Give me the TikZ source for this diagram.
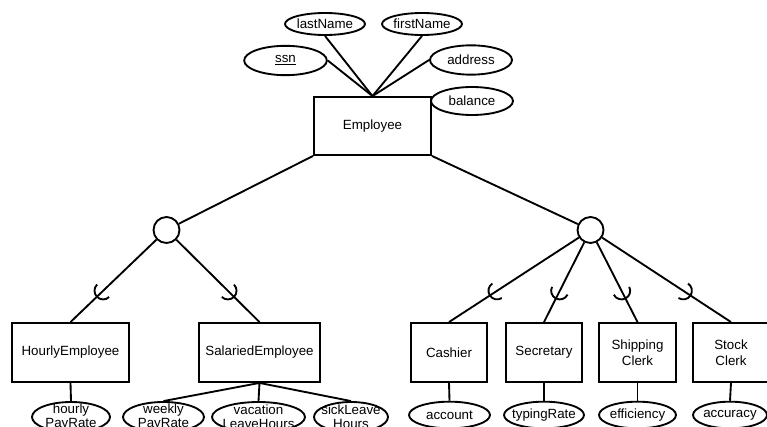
\documentclass[tikz,border=0pt]{standalone}
\usepackage{fontspec}
\setmainfont{Liberation Sans}
\usetikzlibrary{shapes.geometric,calc}

\tikzset{
  entity/.style={draw, rectangle, minimum height=44.25pt, align=center},
  isa/.style={draw, circle, inner sep=0pt, minimum size=19.5pt},
  attrtext/.style={align=center, inner sep=0pt, font=\fontsize{10pt}{10.5pt}\selectfont},
  attr/.style={draw, ellipse, inner sep=0pt, label={[attrtext]center:{#1}}}
}

\begin{document}
\begin{tikzpicture}[x=0.75pt, y=0.75pt, line width=1.4pt, font=\fontsize{10pt}{12pt}\selectfont]
\useasboundingbox (0,0) rectangle (767,-427);
\clip (0,0) rectangle (767,-427);

\node [entity, minimum width=87.75pt, minimum height=43.5pt] (emp) at (372.5,-126) {Employee};
\node [attr=lastName, minimum width=60pt, minimum height=16.5pt] (ln) at (325,-24) {};
\node [attr=firstName, minimum width=60pt, minimum height=16.5pt] (fn) at (422,-24) {};
\node [attr={\underline{ssn}}, minimum width=62pt, minimum height=22pt] (ssn) at (285.5,-60.5) {};
\node [attr=address, minimum width=61.5pt, minimum height=22pt] (addr) at (471,-60) {};
\node [attr=balance, minimum width=61.5pt, minimum height=21pt] (bal) at (472,-101) {};
\draw (ln.south) -- (emp.north);
\draw (fn.south) -- (emp.north);
\draw (ssn.east) -- (emp.north);
\draw (addr.west) -- (emp.north);

\node [isa] (d1) at (166.5,-230) {};
\node [isa] (d2) at (590.5,-230) {};
\draw (emp.south west) -- (d1);
\draw (emp.south east) -- (d2);

\node [entity, minimum width=87.75pt] (hourly) at (70.5,-352.5) {HourlyEmployee};
\node [entity, minimum width=90.75pt] (salaried) at (259.5,-352.5) {SalariedEmployee};
\node [entity, minimum width=57pt] (cashier) at (449,-352.5) {Cashier};
\node [entity, minimum width=57pt] (secretary) at (544,-352.5) {Secretary};
\node [entity, minimum width=57.75pt] (shipping) at (637.5,-352.5) {Shipping\\Clerk};
\node [entity, minimum width=57pt] (stock) at (731,-352.5) {Stock\\Clerk};

\foreach \a/\b in {d1/hourly, d1/salaried, d2/cashier, d2/secretary, d2/shipping, d2/stock} {
  \draw (\a) -- (\b.north);
  \draw let \p1 = ($(\b.north)-(\a)$), \n1 = {atan2(\y1,\x1)} in
    ($(\a)!0.66!(\b.north)$) ++(\n1+90:6.5pt) arc [start angle=\n1+90, delta angle=-180, radius=6.5pt];
}

\node [attr={hourly\\PayRate}, minimum width=58.5pt, minimum height=22.5pt] (hpr) at (71,-417) {};
\node [attr={weekly\\PayRate}, minimum width=60.75pt, minimum height=22.5pt] (wpr) at (163.5,-417) {};
\node [attr={vacation\\LeaveHours}, minimum width=69.75pt, minimum height=22.5pt] (vlh) at (258.5,-417) {};
\node [attr={sickLeave\\Hours}, minimum width=55.5pt, minimum height=22.5pt] (slh) at (351,-417) {};
\node [attr=account, minimum width=60.75pt, minimum height=20pt] (acc) at (449.5,-415) {};
\node [attr=typingRate, minimum width=60pt, minimum height=20pt] (tr) at (544,-415) {};
\node [attr=efficiency, minimum width=57.75pt, minimum height=20pt] (eff) at (637.5,-415) {};
\node [attr=accuracy, minimum width=55.5pt, minimum height=20pt] (accu) at (730,-415) {};
\draw (hourly.south) -- (hpr.north);
\draw (salaried.south) -- (wpr.north);
\draw (salaried.south) -- (vlh.north);
\draw (salaried.south) -- (slh.north);
\draw (cashier.south) -- (acc.north);
\draw (secretary.south) -- (tr.north);
\draw (shipping.south) -- (eff.north);
\draw (stock.south) -- (accu.north);
\end{tikzpicture}
\end{document}
